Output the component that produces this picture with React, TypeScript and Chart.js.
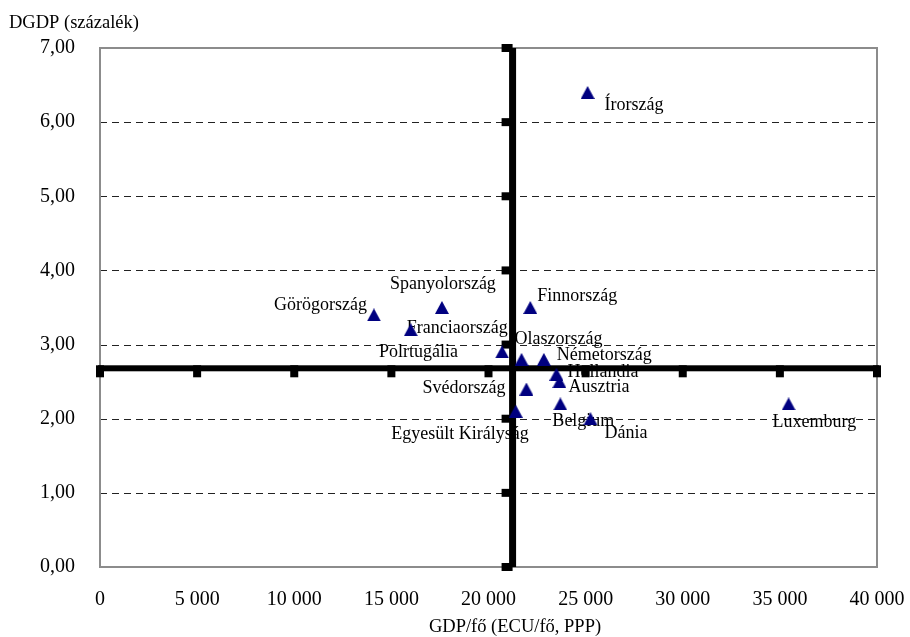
import React, { useEffect, useRef } from "react";
import { Chart, registerables } from "chart.js";

Chart.register(...registerables);

// ---- data ----
const countries = [
  "Írország",
  "Görögország",
  "Spanyolország",
  "Franciaország",
  "Polrtugália",
  "Olaszország",
  "Németország",
  "Hollandia",
  "Ausztria",
  "Svédország",
  "Belgium",
  "Egyesült Királyság",
  "Dánia",
  "Finnország",
  "Luxemburg",
];
const gdpPerCapita = [25100, 14100, 17600, 16000, 20700, 21700, 22850, 23500, 23650, 21950, 23700, 21400, 25250, 22150, 35450];
const gdpGrowth = [6.4, 3.4, 3.5, 3.2, 2.9, 2.8, 2.8, 2.6, 2.5, 2.4, 2.2, 2.1, 2.0, 3.5, 2.2];

const avgGdpPerCapita = 21240;
const avgGdpGrowth = 2.68;

const xTicks = [0, 5000, 10000, 15000, 20000, 25000, 30000, 35000, 40000];
const yTicks = [0, 1, 2, 3, 4, 5, 6, 7];

const yTitle = "DGDP (százalék)";
const xTitle = "GDP/fő (ECU/fő, PPP)";

// ---- label placement (layout only) ----
type Place = { dx: number; dy: number; align: CanvasTextAlign };
const labelPlacement: Place[] = [
  { dx: 17, dy: 13, align: "left" },
  { dx: -7, dy: -10, align: "right" },
  { dx: 1, dy: -23, align: "center" },
  { dx: -4, dy: -1, align: "left" },
  { dx: -44, dy: 0, align: "right" },
  { dx: -7, dy: -20, align: "left" },
  { dx: 13, dy: -4, align: "left" },
  { dx: 11, dy: -2, align: "left" },
  { dx: 9, dy: 6, align: "left" },
  { dx: -21, dy: -1, align: "right" },
  { dx: -8, dy: 17, align: "left" },
  { dx: 13, dy: 23, align: "right" },
  { dx: 14, dy: 15, align: "left" },
  { dx: 7, dy: -11, align: "left" },
  { dx: -16, dy: 18, align: "left" },
];

const SERIF = "'Liberation Serif', 'Times New Roman', serif";
const fmtThousands = (v: number) =>
  String(Math.round(v)).replace(/\B(?=(\d{3})+(?!\d))/g, " ");

function makeTriangle(): HTMLCanvasElement {
  const c = document.createElement("canvas");
  c.width = 14;
  c.height = 13;
  const ctx = c.getContext("2d")!;
  ctx.fillStyle = "#000080";
  ctx.beginPath();
  ctx.moveTo(7, 0);
  ctx.lineTo(14, 13);
  ctx.lineTo(0, 13);
  ctx.closePath();
  ctx.fill();
  return c;
}

const decorPlugin = {
  id: "decor",
  beforeDatasetsDraw(chart: any) {
    const { ctx, chartArea } = chart;
    const xs = chart.scales.x;
    const ys = chart.scales.y;
    ctx.save();

    // dashed gridlines
    ctx.strokeStyle = "#222";
    ctx.lineWidth = 1;
    ctx.setLineDash([7, 5]);
    for (const v of yTicks) {
      if (v === yTicks[0] || v === yTicks[yTicks.length - 1]) continue;
      const py = Math.round(ys.getPixelForValue(v)) + 0.5;
      ctx.beginPath();
      ctx.moveTo(chartArea.left, py);
      ctx.lineTo(chartArea.right, py);
      ctx.stroke();
    }
    ctx.setLineDash([]);

    // frame
    ctx.strokeStyle = "#8c8c8c";
    ctx.lineWidth = 2;
    ctx.strokeRect(chartArea.left, chartArea.top, chartArea.right - chartArea.left, chartArea.bottom - chartArea.top);

    // data labels
    ctx.fillStyle = "#000";
    ctx.font = `18px ${SERIF}`;
    ctx.textBaseline = "middle";
    countries.forEach((name, i) => {
      const p = labelPlacement[i];
      const px = xs.getPixelForValue(gdpPerCapita[i]);
      const py = ys.getPixelForValue(gdpGrowth[i]);
      ctx.textAlign = p.align;
      ctx.fillText(name, px + p.dx, py + p.dy);
    });

    // thick average axes
    const hy = ys.getPixelForValue(avgGdpGrowth);
    const vx = xs.getPixelForValue(avgGdpPerCapita);
    ctx.fillStyle = "#000";
    ctx.fillRect(chartArea.left - 2, hy - 3, chartArea.right - chartArea.left + 4, 6);
    for (const v of xTicks) {
      const px = xs.getPixelForValue(v);
      ctx.fillRect(px - 4, hy - 3, 8, 12);
    }
    ctx.fillRect(vx - 3.5, chartArea.top, 7, chartArea.bottom - chartArea.top);
    for (const v of yTicks) {
      const py = ys.getPixelForValue(v);
      ctx.fillRect(vx - 11, py - 4, 11, 8);
    }

    // axis titles
    ctx.fillStyle = "#000";
    ctx.font = `18.5px ${SERIF}`;
    ctx.textBaseline = "middle";
    ctx.textAlign = "left";
    ctx.fillText(yTitle, 9, 23);
    ctx.textAlign = "center";
    ctx.fillText(xTitle, chartArea.left + 415, chartArea.bottom + 60);

    ctx.restore();
  },
};

export default function App() {
  const ref = useRef<HTMLCanvasElement | null>(null);

  useEffect(() => {
    if (!ref.current) return;
    const tri = makeTriangle();
    const chart = new Chart(ref.current, {
      type: "scatter",
      data: {
        datasets: [
          {
            label: "országok",
            data: gdpPerCapita.map((x, i) => ({ x, y: gdpGrowth[i] })),
            pointStyle: tri as any,
            pointRadius: 8,
            backgroundColor: "#000080",
            borderColor: "#000080",
          },
        ],
      },
      options: {
        animation: false,
        responsive: false,
        maintainAspectRatio: false,
        layout: { padding: { top: 48, right: 33, left: 0, bottom: 0 } },
        plugins: {
          legend: { display: false },
          tooltip: { enabled: false },
        },
        scales: {
          x: {
            type: "linear",
            min: 0,
            max: 40000,
            grid: { display: false },
            border: { display: false },
            afterBuildTicks: (s: any) => {
              s.ticks = xTicks.map((v) => ({ value: v }));
            },
            afterFit: (s: any) => {
              s.height = 70;
              s.paddingLeft = 0;
              s.paddingRight = 0;
            },
            ticks: {
              autoSkip: false,
              maxRotation: 0,
              padding: 13,
              color: "#000",
              font: { family: SERIF, size: 20 },
              callback: (v: any) => fmtThousands(Number(v)),
            },
          },
          y: {
            type: "linear",
            min: 0,
            max: 7,
            grid: { display: false },
            border: { display: false },
            afterBuildTicks: (s: any) => {
              s.ticks = yTicks.map((v) => ({ value: v }));
            },
            afterFit: (s: any) => {
              s.width = 100;
              s.paddingTop = 0;
              s.paddingBottom = 0;
            },
            ticks: {
              autoSkip: false,
              padding: 17,
              color: "#000",
              font: { family: SERIF, size: 20 },
              callback: (v: any) => Number(v).toFixed(2).replace(".", ","),
            },
          },
        },
      },
      plugins: [decorPlugin],
    });
    return () => chart.destroy();
  }, []);

  return (
    <div style={{ position: "absolute", left: 0, top: 0, width: 910, height: 637, background: "#fff" }}>
      <canvas ref={ref} width={910} height={637} style={{ display: "block" }} />
    </div>
  );
}
